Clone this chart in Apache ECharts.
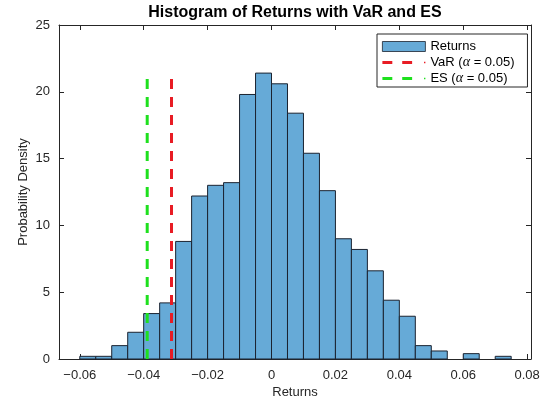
<!DOCTYPE html>
<html>
<head>
<meta charset="utf-8">
<script src="https://cdn.jsdelivr.net/npm/echarts@6/dist/echarts.min.js"></script>
<style>
  html, body { margin: 0; padding: 0; background: #fff; }
  #chart { width: 553px; height: 401px; }
</style>
</head>
<body>
<div id="chart"></div>
<script>
// Histogram bins: left edges (bin width 0.005) and probability density of each bin
const binStarts = [-0.060, -0.055, -0.050, -0.045, -0.040, -0.035, -0.030, -0.025, -0.020,
                   -0.015, -0.010, -0.005, 0.000, 0.005, 0.010, 0.015, 0.020, 0.025,
                   0.030, 0.035, 0.040, 0.045, 0.050, 0.055, 0.060, 0.065, 0.070];
const densities = [0.2, 0.2, 1.0, 2.0, 3.4, 4.2, 8.8, 12.2, 13.0,
                   13.2, 19.8, 21.4, 20.6, 18.4, 15.4, 12.6, 9.0, 8.2,
                   6.6, 4.4, 3.2, 1.0, 0.6, 0, 0.4, 0, 0.2];
const binWidth = 0.005;

// Risk measures at alpha = 0.05
const varValue = -0.0313;
const esValue = -0.0389;

// Axis ticks
const xTicks = [-0.06, -0.04, -0.02, 0, 0.02, 0.04, 0.06, 0.08];
const xTickLabels = ['\u22120.06', '\u22120.04', '\u22120.02', '0', '0.02', '0.04', '0.06', '0.08'];
const yTicks = [0, 5, 10, 15, 20, 25];

const seriesNames = ['Returns', 'VaR (\u03b1 = 0.05)', 'ES (\u03b1 = 0.05)'];

const AXIS_COLOR = '#262626';
const FONT = "'Liberation Sans', Arial, sans-serif";
const BAR_FILL = '#66aad7';
const BAR_EDGE = '#1b2330';
const VAR_COLOR = '#e81c24';
const ES_COLOR = '#1ee01e';

// Legend sample for a dashed line: two dashes and a small marker dot
const DASH_ICON = 'path://M0,0h10v3h-10zM20,0h10v3h-10zM42,0.8h1.4v1.4h-1.4z';

const histData = binStarts.map((s, i) => [s, s + binWidth, densities[i]]);
const peak = Math.max(...densities);

function xLabel(v) {
  let best = 0;
  xTicks.forEach((t, i) => { if (Math.abs(t - v) < Math.abs(xTicks[best] - v)) best = i; });
  return xTickLabels[best];
}

const xMin = -0.0665, xMax = 0.0812;

const baseX = {
  type: 'value', min: xMin, max: xMax,
  axisLine: { show: true, onZero: false, lineStyle: { color: AXIS_COLOR, width: 1 } },
  axisTick: { show: true, inside: true, length: 5, customValues: xTicks, lineStyle: { color: AXIS_COLOR } },
  splitLine: { show: false }
};
const baseY = {
  type: 'value', min: yTicks[0], max: yTicks[yTicks.length - 1], interval: 5,
  axisLine: { show: true, onZero: false, lineStyle: { color: AXIS_COLOR, width: 1 } },
  axisTick: { show: true, inside: true, length: 5, lineStyle: { color: AXIS_COLOR } },
  splitLine: { show: false }
};

const chart = echarts.init(document.getElementById('chart'), null, { renderer: 'canvas' });

chart.setOption({
  animation: false,
  backgroundColor: '#ffffff',
  grid: { left: 59, right: 22, top: 25, bottom: 42, containLabel: false, outerBoundsMode: 'none' },
  graphic: [{
    type: 'text', x: 295, y: 13,
    style: {
      text: 'Histogram of Returns with VaR and ES',
      align: 'center', verticalAlign: 'middle',
      font: "bold 16px 'Liberation Sans', Arial, sans-serif",
      fill: '#000000'
    }
  }],
  legend: {
    orient: 'vertical',
    left: 377, top: 34,
    padding: [5, 13, 1, 5],
    itemGap: 1,
    itemWidth: 43, itemHeight: 10,
    borderColor: AXIS_COLOR, borderWidth: 1,
    backgroundColor: '#ffffff',
    data: [
      { name: seriesNames[0], icon: 'rect',
        itemStyle: { color: BAR_FILL, borderColor: BAR_EDGE, borderWidth: 0.8 } },
      { name: seriesNames[1], icon: DASH_ICON, itemStyle: { color: VAR_COLOR, borderWidth: 0 } },
      { name: seriesNames[2], icon: DASH_ICON, itemStyle: { color: ES_COLOR, borderWidth: 0 } }
    ],
    formatter: name => name.replace('\u03b1', '{a|\u03b1}'),
    textStyle: {
      fontFamily: FONT, fontSize: 13, color: '#000000', lineHeight: 15,
      rich: { a: { fontFamily: "'Liberation Serif', 'DejaVu Serif', serif", fontStyle: 'italic', fontSize: 14, color: '#000000' } }
    }
  },
  xAxis: [
    Object.assign({}, baseX, {
      position: 'bottom',
      name: 'Returns', nameLocation: 'middle', nameGap: 27, nameMoveOverlap: false,
      nameTextStyle: { fontFamily: FONT, fontSize: 13, color: AXIS_COLOR },
      axisLabel: {
        show: true, margin: 10, customValues: xTicks, formatter: xLabel,
        fontFamily: FONT, fontSize: 13, color: AXIS_COLOR
      }
    }),
    Object.assign({}, baseX, { position: 'top', axisLabel: { show: false } })
  ],
  yAxis: [
    Object.assign({}, baseY, {
      position: 'left',
      name: 'Probability Density', nameLocation: 'middle', nameGap: 29, nameRotate: 90,
      nameMoveOverlap: false,
      nameTextStyle: { fontFamily: FONT, fontSize: 13, color: AXIS_COLOR },
      axisLabel: { show: true, margin: 9, fontFamily: FONT, fontSize: 13, color: AXIS_COLOR }
    }),
    Object.assign({}, baseY, { position: 'right', axisLabel: { show: false } })
  ],
  series: [
    {
      name: seriesNames[0],
      type: 'custom',
      xAxisIndex: 0, yAxisIndex: 0,
      itemStyle: { color: BAR_FILL, borderColor: BAR_EDGE, borderWidth: 1 },
      encode: { x: [0, 1], y: 2 },
      data: histData,
      renderItem: (params, api) => {
        const h = api.value(2);
        if (!(h > 0)) return null;
        const p0 = api.coord([api.value(0), h]);
        const p1 = api.coord([api.value(1), 0]);
        return {
          type: 'rect',
          shape: { x: p0[0], y: p0[1], width: p1[0] - p0[0], height: p1[1] - p0[1] },
          style: { fill: BAR_FILL, stroke: BAR_EDGE, lineWidth: 1 }
        };
      },
      z: 2
    },
    {
      name: seriesNames[1],
      type: 'line',
      xAxisIndex: 0, yAxisIndex: 0,
      symbol: 'none',
      data: [[varValue, 0], [varValue, peak]],
      lineStyle: { color: VAR_COLOR, width: 3, type: [10, 8] },
      itemStyle: { color: VAR_COLOR },
      z: 3
    },
    {
      name: seriesNames[2],
      type: 'line',
      xAxisIndex: 0, yAxisIndex: 0,
      symbol: 'none',
      data: [[esValue, 0], [esValue, peak]],
      lineStyle: { color: ES_COLOR, width: 3, type: [10, 8] },
      itemStyle: { color: ES_COLOR },
      z: 3
    }
  ]
});
</script>
</body>
</html>
